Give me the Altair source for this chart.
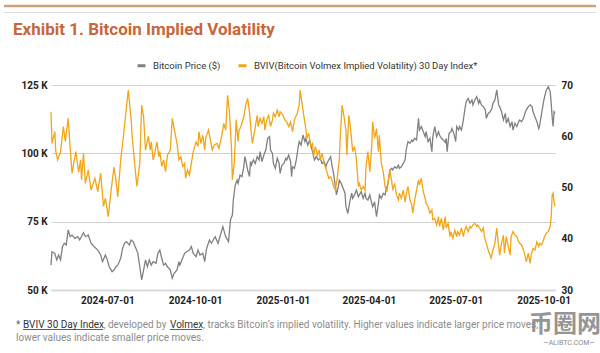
import altair as alt
import pandas as pd

# ---------------- data ----------------
# days counted from 2024-07-01
btc_day = [-59, -58, -55, -53, -51, -49, -47, -45, -43, -41,
           -39, -37, -34, -31, -29, -25, -23, -20, -17, -14,
           -10, -7, -5, -2, 0, 2, 5, 7, 9, 11,
           14, 16, 18, 20, 23, 25, 27, 30, 32, 34,
           36, 38, 40, 42, 44, 46, 48, 51, 53, 55,
           57, 59, 61, 63, 66, 68, 70, 73, 75, 76,
           78, 81, 83, 86, 88, 90, 93, 95, 97, 100,
           102, 104, 107, 109, 111, 113, 116, 118, 121, 123,
           124, 127, 129, 131, 132, 134, 136, 137, 139, 141,
           143, 144, 145, 147, 149, 150, 151, 153, 155, 157,
           159, 160, 162, 164, 166, 168, 170, 171, 173, 174,
           176, 178, 180, 181, 183, 185, 187, 188, 190, 192,
           193, 194, 196, 198, 200, 201, 203, 205, 207, 208,
           210, 212, 214, 215, 217, 219, 221, 223, 225, 227,
           229, 230, 232, 234, 235, 237, 238, 240, 242, 243,
           245, 247, 249, 250, 252, 254, 256, 257, 259, 261,
           263, 264, 266, 268, 270, 271, 273, 275, 277, 278,
           280, 282, 284, 285, 287, 289, 291, 292, 294, 296,
           298, 299, 301, 303, 305, 306, 308, 310, 312, 313,
           315, 317, 319, 320, 322, 324, 326, 327, 329, 331,
           333, 334, 336, 338, 340, 341, 343, 345, 347, 348,
           350, 352, 354, 355, 356, 358, 360, 361, 363, 365,
           366, 368, 369, 371, 373, 375, 376, 378, 380, 382,
           383, 385, 387, 389, 390, 392, 394, 396, 397, 399,
           401, 403, 404, 406, 408, 410, 411, 413, 415, 417,
           418, 420, 422, 424, 425, 427, 429, 431, 432, 434,
           436, 438, 439, 441, 443, 445, 446, 448, 450, 452,
           453, 455, 457, 459, 460, 462, 464, 465, 466, 467,
           468, 469]
# Bitcoin price, thousands of dollars
btc_k = [59.1, 64, 63.4, 61, 62.8, 61, 65.9, 67.1, 66.5, 72,
         69.5, 70.1, 68.9, 69.5, 68.3, 71, 69.5, 70.1, 67.1, 65.9,
         64.6, 62.8, 60.4, 62.8, 61, 58.5, 56.7, 57.3, 58.5, 59.1,
         61.6, 65.2, 67.1, 67.7, 66.5, 68.3, 67.7, 65.2, 63.4, 58.5,
         53.7, 57.3, 61, 58.5, 61, 59.1, 60.4, 59.8, 63.4, 64.6,
         61.6, 59.1, 59.8, 58.5, 57.3, 54.3, 56.1, 57.3, 60.4, 59.1,
         61, 63.4, 64, 64.6, 65.9, 63.4, 62.2, 64.6, 62.8, 63.4,
         60.4, 65.2, 68.3, 67.1, 68.3, 69.5, 67.1, 69.5, 73.2, 70.7,
         69.5, 67.7, 75.6, 77.4, 82.9, 88.4, 90.2, 89, 92, 91.5,
         95.1, 98.8, 97.6, 93.9, 91.5, 97, 95.7, 97.6, 96.3, 98.8,
         97.6, 100.6, 97, 99.4, 101.2, 105.5, 106.1, 101.2, 100, 96.3,
         94.5, 98.2, 96.3, 92.7, 95.7, 96.3, 98.2, 97.6, 99.4, 97,
         91.5, 95.1, 94.5, 97.6, 102.4, 104.3, 103, 106.7, 104.3, 105.5,
         103, 104.9, 101.8, 100.6, 97.6, 98.8, 97.6, 98.2, 96.3, 97,
         95.1, 96.3, 97.6, 98.8, 96.3, 92.7, 90.2, 84.8, 87.8, 90.2,
         89, 87.2, 85.4, 80.5, 78, 82.3, 85.4, 83.5, 84.8, 86.6,
         84.1, 84.8, 86, 83.5, 85.4, 83.5, 82.9, 84.8, 81.7, 80.5,
         82.3, 76.8, 81.7, 84.8, 83.5, 85.4, 84.8, 86.6, 89, 93.9,
         94.5, 93.9, 95.1, 94.5, 95.7, 94.5, 95.1, 96.3, 97.6, 101.2,
         104.3, 103.7, 104.9, 104.3, 105.5, 104.9, 112.8, 108.5, 109.8, 107.9,
         106.1, 107.9, 104.3, 105.5, 100.6, 106.1, 109.8, 106.1, 107.9, 106.7,
         105.5, 104.9, 104, 105.5, 100.6, 107.3, 107.9, 109.1, 107.3, 104.3,
         109.8, 108.5, 109.8, 108.5, 112.2, 117.1, 118.9, 120.1, 118.3, 119.5,
         117.7, 119.5, 120.7, 118.3, 119.5, 117.7, 117.1, 115.9, 112.8, 114.6,
         115.2, 116.5, 118.3, 119.5, 123.2, 117.7, 117.1, 115.2, 112.2, 114.6,
         111, 112.8, 109.8, 111.6, 108.5, 111, 109.8, 111.6, 112.2, 111.6,
         112.8, 115.2, 115.9, 117.1, 117.7, 117.1, 115.2, 113.4, 111.6, 109.1,
         110.4, 114.6, 118.9, 122, 123.2, 124.4, 122.6, 118.3, 113.4, 109.8,
         115.2, 114.6]

vol_day = [-59, -58, -55, -54, -52, -49, -46, -44, -41, -39,
           -37, -33, -30, -28, -27, -25, -23, -20, -17, -13,
           -10, -7, -4, -2, 1, 4, 7, 9, 11, 14,
           17, 19, 22, 25, 26, 29, 31, 34, 36, 38,
           40, 43, 45, 46, 48, 50, 52, 54, 55, 57,
           59, 61, 63, 66, 68, 70, 73, 75, 77, 79,
           81, 82, 84, 86, 88, 90, 93, 95, 96, 98,
           100, 102, 103, 106, 108, 110, 112, 115, 117, 120,
           122, 124, 126, 128, 130, 131, 133, 135, 137, 138,
           140, 143, 145, 147, 149, 151, 152, 154, 157, 158,
           160, 162, 164, 165, 167, 169, 171, 173, 174, 176,
           178, 180, 181, 184, 186, 188, 190, 192, 194, 196,
           199, 201, 202, 204, 206, 208, 209, 211, 213, 215,
           216, 218, 220, 222, 223, 225, 227, 229, 230, 232,
           234, 236, 237, 239, 241, 243, 244, 246, 248, 250,
           251, 253, 255, 257, 259, 261, 263, 264, 266, 268,
           270, 271, 273, 275, 277, 278, 280, 282, 284, 285,
           287, 289, 291, 293, 294, 296, 298, 299, 301, 303,
           305, 306, 308, 310, 312, 313, 315, 317, 319, 320,
           322, 324, 326, 327, 329, 331, 333, 334, 336, 338,
           340, 341, 343, 345, 347, 348, 350, 352, 354, 355,
           357, 359, 360, 362, 364, 366, 367, 369, 371, 373,
           374, 376, 378, 380, 381, 383, 385, 387, 388, 390,
           392, 394, 395, 397, 399, 401, 402, 404, 406, 408,
           409, 411, 413, 415, 416, 418, 420, 422, 423, 425,
           427, 429, 430, 432, 434, 436, 437, 439, 441, 443,
           444, 446, 448, 450, 452, 453, 455, 457, 458, 460,
           462, 464, 465, 466, 467, 468, 469]
# BVIV 30-day index
vol_val = [64.8, 58.6, 60.9, 57, 55.4, 57, 61.9, 59, 63.5, 58,
           52.8, 57, 53, 55.4, 51.5, 56.7, 50.8, 53.4, 49.5, 51.8,
           49.2, 52.8, 46.3, 47.9, 44.3, 49.5, 54, 51.5, 48.2, 55.4,
           60.2, 63.8, 69, 63.2, 60, 54, 50.2, 54.7, 66.1, 63.8,
           57.3, 60, 57.3, 58.9, 55.4, 57, 58.9, 56, 57, 54.1,
           55.4, 53.1, 56.3, 57.3, 63.5, 61.5, 58.6, 55.4, 56, 54.1,
           54.7, 51.8, 53.4, 52.4, 54.7, 57, 58.9, 58, 60.9, 58.6,
           60.2, 57.3, 59.6, 61.2, 59.3, 57.3, 58.3, 58.6, 57.6, 60.2,
           62.5, 61.2, 68, 64.5, 58, 51.5, 54.7, 63.2, 59, 61.2,
           61.9, 63.8, 66.1, 67.4, 64.5, 60.2, 58.6, 60.6, 64.1, 61.9,
           63.5, 62.5, 63.8, 61.2, 63.2, 64.1, 61.9, 63.2, 64.5, 63.8,
           65.1, 63.8, 64.8, 64.1, 63.2, 62.8, 61.9, 62.8, 60.9, 63.2,
           64.5, 66.1, 69, 66.4, 63.8, 61.5, 59.6, 60.6, 58, 58.6,
           56, 58, 56.3, 57.3, 55.4, 56.7, 54.7, 53.7, 53.1, 51.8,
           52.1, 51.1, 50.2, 49.5, 52.1, 55.4, 59.9, 66.1, 63.8, 61.2,
           56.3, 64.1, 61.2, 57, 58, 55.4, 50.2, 50.8, 49.5, 50.2,
           49.5, 54.1, 57, 53.1, 58, 62.8, 59.6, 61.5, 57, 60.2,
           54.7, 53.1, 50.2, 49.2, 50.8, 53.4, 51.1, 49.5, 50.8, 48.5,
           47.6, 48.9, 47.9, 49.5, 47.2, 48.5, 50.2, 47.6, 46.6, 45,
           47.6, 49.5, 51.5, 50.5, 51.8, 49.2, 47.9, 46.9, 46.3, 45,
           45.6, 43.7, 44, 42.7, 44.3, 42.4, 44, 41.7, 44.3, 42.1,
           43, 40.4, 41.4, 40.1, 41.7, 40.4, 41.4, 40.7, 42.1, 40.4,
           41.4, 42.4, 41.4, 42.4, 42.1, 42.7, 43, 42.4, 42.7, 42.1,
           41.4, 42.1, 40.4, 39.1, 37.8, 36.8, 36.2, 37.8, 39.1, 42.1,
           40.1, 36.8, 39.1, 40.7, 37.2, 40.4, 38.5, 36.8, 40.4, 41.4,
           40.7, 40.4, 39.8, 39.1, 38.8, 37.8, 37.2, 35.5, 37.2, 35.2,
           36.8, 38.1, 37.8, 39.4, 38.5, 39.1, 38.8, 39.8, 40.4, 41.1,
           41.4, 42.4, 44.3, 48.5, 48.9, 47.2, 46.3]

start_date = "2024-07-01"
tick_dates = ["2024-07-01", "2024-10-01", "2025-01-01",
              "2025-04-01", "2025-07-01", "2025-10-01"]
price_ticks = [50, 75, 100, 125]
vol_ticks = [30, 40, 50, 60, 70]
series_names = ["Bitcoin Price ($)",
                "BVIV(Bitcoin Volmex Implied Volatility) 30 Day Index*"]
series_colors = ["#808080", "#f2a516"]

title_text = "Exhibit 1. Bitcoin Implied Volatility"
note_star = "*"
note_link1 = "BVIV 30 Day Index"
note_mid = ", developed by"
note_link2 = "Volmex"
note_rest = ", tracks Bitcoin\u2019s implied volatility. Higher values indicate larger price moves;"
note_line2 = "lower values indicate smaller price moves."

# ---------------- tables ----------------
base = pd.Timestamp(start_date)


def to_dates(days):
    return [(base + pd.Timedelta(days=d)).strftime("%Y-%m-%d") for d in days]


btc_df = pd.DataFrame({"date": to_dates(btc_day), "value": btc_k,
                       "series": series_names[0]})
vol_df = pd.DataFrame({"date": to_dates(vol_day), "value": vol_val,
                       "series": series_names[1]})
tick_ms = [int(pd.Timestamp(t, tz="UTC").value // 10**6) for t in tick_dates]

FONT = "Roboto"

color_enc = alt.Color(
    "series:N",
    scale=alt.Scale(domain=series_names, range=series_colors),
    legend=alt.Legend(orient="none", legendX=85, legendY=-25,
                      direction="horizontal", title=None,
                      symbolType="stroke", symbolStrokeWidth=3,
                      symbolSize=64, labelFontSize=9.5, labelFont=FONT,
                      labelColor="#333333", columnPadding=11, padding=0,
                      labelOffset=6, labelLimit=400),
)

x_enc = alt.X(
    "date:T",
    scale=alt.Scale(type="utc"),
    axis=alt.Axis(values=tick_ms,
                  labelExpr="utcFormat(datum.value, '%Y-%m-%d')",
                  title=None, ticks=False, grid=False, domain=True,
                  domainColor="#d9d9d9", domainWidth=2,
                  labelFont=FONT, labelFontSize=10, labelFontWeight="bold",
                  labelColor="#222222", labelPadding=5,
                  labelOverlap=False),
)

btc_line = alt.Chart(btc_df).mark_line(strokeWidth=1.3).encode(
    x=x_enc,
    y=alt.Y("value:Q",
            scale=alt.Scale(domain=[50, 125]),
            axis=alt.Axis(orient="left", values=price_ticks,
                          labelExpr="datum.value + ' K'",
                          title=None, ticks=False, domain=False,
                          grid=True, gridColor="#d0d0d0", gridWidth=1,
                          labelFont=FONT, labelFontSize=10,
                          labelFontWeight="bold", labelColor="#222222",
                          labelPadding=4)),
    color=color_enc,
)

vol_line = alt.Chart(vol_df).mark_line(strokeWidth=1.3).encode(
    x=x_enc,
    y=alt.Y("value:Q",
            scale=alt.Scale(domain=[30, 70]),
            axis=alt.Axis(orient="right", values=vol_ticks,
                          title=None, ticks=False, domain=False, grid=False,
                          labelFont=FONT, labelFontSize=10,
                          labelFontWeight="bold", labelColor="#222222",
                          labelPadding=6)),
    color=color_enc,
)

one = pd.DataFrame({"k": [0]})

top_thick = alt.Chart(one).mark_rule(color="#c9a27e", strokeWidth=2.5).encode(
    x=alt.value(-47), x2=alt.value(545), y=alt.value(-79))
top_thin = alt.Chart(one).mark_rule(color="#dcd8e4", strokeWidth=1).encode(
    x=alt.value(-47), x2=alt.value(545), y=alt.value(-72.5))

title = alt.Chart(one).mark_text(
    text=title_text, font=FONT, fontSize=17, fontWeight="bold",
    color="#c8663a", align="left", baseline="alphabetic").encode(
    x=alt.value(-38), y=alt.value(-50.5))


def note(txt, x, y, color):
    return alt.Chart(one).mark_text(
        text=txt, font=FONT, fontSize=10, color=color,
        align="left", baseline="alphabetic").encode(
        x=alt.value(x), y=alt.value(y))


notes = [
    note(note_star, -35, 242.5, "#666666"),
    note(note_link1, -28, 242.5, "#333333"),
    note(note_mid, 52.5, 242.5, "#8c8c8c"),
    note(note_link2, 119, 242.5, "#333333"),
    note(note_rest, 152, 242.5, "#8c8c8c"),
    note(note_line2, -35, 255.5, "#8c8c8c"),
]
underline1 = alt.Chart(one).mark_rule(color="#333333", strokeWidth=0.8).encode(
    x=alt.value(-28), x2=alt.value(52), y=alt.value(244.5))
underline2 = alt.Chart(one).mark_rule(color="#333333", strokeWidth=0.8).encode(
    x=alt.value(119), x2=alt.value(151), y=alt.value(244.5))

wm1 = alt.Chart(one).mark_text(
    text="币圈网", font="Noto Sans CJK SC", fontSize=24, fontWeight="bold",
    color="#8a8a8a", opacity=0.9, align="center",
    baseline="alphabetic").encode(x=alt.value(514), y=alt.value(247))
wm2 = alt.Chart(one).mark_text(
    text="\u2014ALIBTC.COM\u2014", font=FONT, fontSize=7, color="#8a8a8a",
    align="center", baseline="alphabetic").encode(
    x=alt.value(518), y=alt.value(260))

chart = alt.layer(
    btc_line, vol_line,
    top_thick, top_thin, title, *notes, underline1, underline2, wm1, wm2,
).resolve_scale(
    y="independent"
).properties(
    width=504, height=205,
    padding={"left": 51, "top": 85, "right": 45, "bottom": 63},
    autosize=alt.AutoSizeParams(type="none"),
    background="white",
).configure_view(stroke=None)

chart.save("out.html", embed_options={"renderer": "svg", "actions": False})
